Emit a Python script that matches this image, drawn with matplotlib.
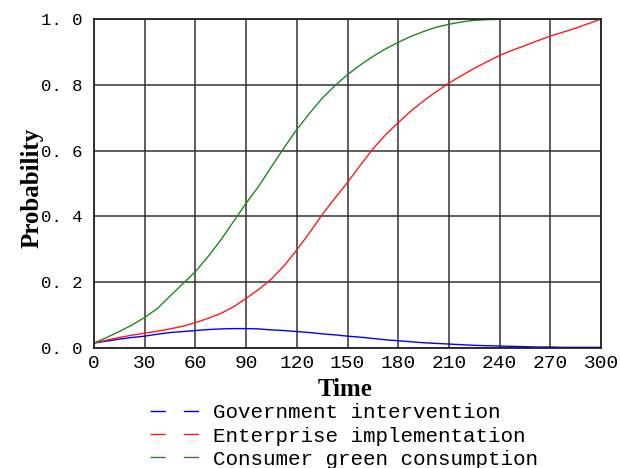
import matplotlib
matplotlib.use("Agg")
import matplotlib.pyplot as plt
from matplotlib.lines import Line2D

time = [0, 7.5, 15, 22.5, 30, 37.5, 45, 52.5, 60, 67.5, 75, 82.5, 90, 97.5, 105, 112.5,
        120, 127.5, 135, 142.5, 150, 157.5, 165, 172.5, 180, 187.5, 195, 202.5, 210, 217.5,
        225, 232.5, 240, 247.5, 255, 262.5, 270, 277.5, 285, 292.5, 300]
government = [0.015, 0.021, 0.027, 0.032, 0.036, 0.042, 0.047, 0.050, 0.053, 0.056, 0.058,
              0.059, 0.059, 0.058, 0.055, 0.053, 0.050, 0.047, 0.043, 0.040, 0.036, 0.033,
              0.029, 0.025, 0.022, 0.019, 0.016, 0.014, 0.012, 0.010, 0.008, 0.007, 0.006,
              0.005, 0.004, 0.003, 0.003, 0.002, 0.002, 0.002, 0.002]
enterprise = [0.015, 0.024, 0.032, 0.039, 0.045, 0.051, 0.058, 0.066, 0.077, 0.090, 0.105,
              0.125, 0.151, 0.178, 0.210, 0.250, 0.298, 0.350, 0.405, 0.455, 0.503, 0.555,
              0.605, 0.648, 0.685, 0.720, 0.751, 0.779, 0.805, 0.828, 0.850, 0.870, 0.889,
              0.905, 0.919, 0.934, 0.948, 0.960, 0.972, 0.986, 1.000]
consumer = [0.015, 0.032, 0.050, 0.070, 0.093, 0.120, 0.158, 0.195, 0.232, 0.278, 0.328,
            0.384, 0.440, 0.492, 0.551, 0.609, 0.664, 0.713, 0.759, 0.797, 0.831, 0.860,
            0.886, 0.909, 0.929, 0.947, 0.962, 0.975, 0.984, 0.991, 0.996, 0.998, 0.999,
            1.000, 1.000, 1.000, 1.000, 1.000, 1.000, 1.000, 1.000]

labels = ["Government intervention", "Enterprise implementation", "Consumer green consumption"]
colors = ["#0000ff", "#ff1a1a", "#1a8c1a"]
xticks = [0, 30, 60, 90, 120, 150, 180, 210, 240, 270, 300]
yticks = [0.0, 0.2, 0.4, 0.6, 0.8, 1.0]
ytick_labels = ["0. 0", "0. 2", "0. 4", "0. 6", "0. 8", "1. 0"]

fig = plt.figure(figsize=(6.2, 4.68), dpi=100)
ax = fig.add_axes([94/620, 1-348/468, (601-94)/620, (348-19)/468])

for ys, c in zip([government, enterprise, consumer], colors):
    ax.plot(time, ys, color=c, lw=1.0)

ax.set_xlim(0, 300)
ax.set_ylim(0, 1.0)
ax.set_xticks(xticks)
ax.set_xticklabels([str(t) for t in xticks], fontfamily="Liberation Mono", fontsize=14)
ax.set_yticks(yticks)
ax.set_yticklabels(ytick_labels, fontfamily="Liberation Mono", fontsize=12.5)
ax.tick_params(axis="x", length=0, pad=5)
ax.tick_params(axis="y", length=0, pad=8)
ax.grid(True, color="#333333", lw=1.1)
for s in ax.spines.values():
    s.set_color("#222222")
    s.set_linewidth(1.3)

ax.set_xlabel("Time", fontfamily="Liberation Serif", fontweight="bold", fontsize=18)
ax.set_ylabel("Probability", fontfamily="Liberation Serif", fontweight="bold", fontsize=18)
ax.xaxis.set_label_coords(0.495, -0.092)
ax.yaxis.set_label_coords(-0.100, 0.486)

handles = [Line2D([0], [0], color=c, lw=1.0, dashes=(11, 13)) for c in colors]
fig.legend(handles, labels, loc="upper center", bbox_to_anchor=(344/620, 1-393/468),
           frameon=False, prop={"family": "Liberation Mono", "size": 15},
           handlelength=2.4, handletextpad=0.67, labelspacing=0.2, borderpad=0)

fig.savefig("out.png", dpi=100)
